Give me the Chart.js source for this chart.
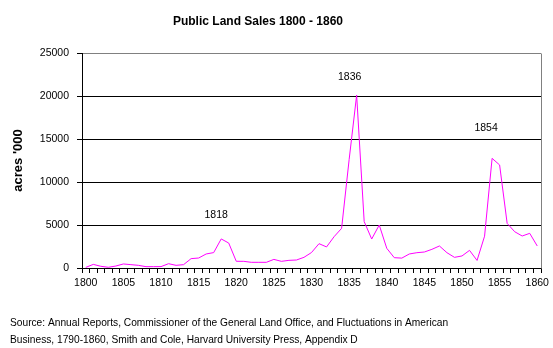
<!DOCTYPE html>
<html><head><meta charset="utf-8">
<script src="https://cdn.jsdelivr.net/npm/chart.js@4/dist/chart.umd.min.js"></script>
<style>html,body{margin:0;padding:0;background:#fff;}canvas{display:block;}</style>
</head><body>
<canvas id="c" width="553" height="348"></canvas>
<script>
const years = ['1800','1801','1802','1803','1804','1805','1806','1807','1808','1809',
  '1810','1811','1812','1813','1814','1815','1816','1817','1818','1819',
  '1820','1821','1822','1823','1824','1825','1826','1827','1828','1829',
  '1830','1831','1832','1833','1834','1835','1836','1837','1838','1839',
  '1840','1841','1842','1843','1844','1845','1846','1847','1848','1849',
  '1850','1851','1852','1853','1854','1855','1856','1857','1858','1859','1860'];
const acres = [70, 420, 200, 80, 230, 470, 390, 310, 155, 155,
  160, 500, 310, 390, 1090, 1160, 1630, 1790, 3380, 2900,
  780, 775, 660, 660, 660, 1000, 775, 890, 930, 1240,
  1800, 2830, 2450, 3640, 4610, 12600, 20100, 5400, 3370, 5000,
  2290, 1200, 1150, 1630, 1780, 1860, 2170, 2560, 1780, 1240,
  1400, 2050, 880, 3700, 12750, 11980, 5190, 4220, 3720, 4030, 2560];
const xTickLabels = ['1800','1805','1810','1815','1820','1825','1830','1835','1840','1845','1850','1855','1860'];
const yTickValues = [0, 5000, 10000, 15000, 20000, 25000];
const annotationYears = ['1818', '1836', '1854'];
const titleText = 'Public Land Sales 1800 - 1860';
const yAxisTitle = "acres '000";
const sourceLines = [
  'Source: Annual Reports, Commissioner of the General Land Office, and Fluctuations in American',
  'Business, 1790-1860, Smith and Cole, Harvard University Press, Appendix D'
];

const FONT = '"Liberation Sans", Arial, sans-serif';
const annotationOffsets = { '1818': [-5, 24], '1836': [-7, 18], '1854': [-6, 30] };

const decorPlugin = {
  id: 'decor',
  beforeDraw(chart) {
    const ctx = chart.ctx;
    ctx.save();
    ctx.fillStyle = '#ffffff';
    ctx.fillRect(0, 0, chart.width, chart.height);
    ctx.restore();
  },
  afterDraw(chart) {
    const ctx = chart.ctx;
    const ca = chart.chartArea;
    const xs = chart.scales.x, ys = chart.scales.y;
    ctx.save();
    ctx.strokeStyle = '#808080';
    ctx.lineWidth = 1;
    ctx.beginPath();
    ctx.moveTo(Math.round(ca.right) + 0.5, Math.round(ca.top) + 0.5);
    ctx.lineTo(Math.round(ca.right) + 0.5, Math.round(ca.bottom) + 0.5);
    ctx.stroke();
    ctx.fillStyle = '#000';
    ctx.font = 'bold 12px ' + FONT;
    ctx.textAlign = 'center';
    ctx.textBaseline = 'middle';
    ctx.fillText(titleText, 258, 22);
    ctx.font = '10.5px ' + FONT;
    annotationYears.forEach(y => {
      const i = years.indexOf(y);
      const off = annotationOffsets[y];
      const px = xs.getPixelForValue(i) + off[0];
      const py = ys.getPixelForValue(acres[i]) - off[1];
      ctx.fillText(y, px, py);
    });
    ctx.textAlign = 'left';
    ctx.font = '10.2px ' + FONT;
    sourceLines.forEach((s, k) => ctx.fillText(s, 10, 323 + k * 17));
    ctx.restore();
  }
};

new Chart(document.getElementById('c'), {
  type: 'line',
  data: {
    labels: years,
    datasets: [{
      data: acres,
      borderColor: '#FF00FF',
      borderWidth: 1,
      pointRadius: 0,
      tension: 0,
      fill: false
    }]
  },
  options: {
    responsive: false,
    animation: false,
    devicePixelRatio: 1,
    layout: { padding: { left: 0, top: 53, right: 9, bottom: 0 } },
    plugins: { legend: { display: false }, tooltip: { enabled: false }, title: { display: false } },
    scales: {
      x: {
        type: 'category',
        offset: true,
        afterFit(s) { s.height = 80; },
        grid: { drawOnChartArea: false, offset: true, tickLength: 5, color: '#000', tickColor: '#000' },
        border: { display: true, color: '#000' },
        ticks: {
          autoSkip: false, maxRotation: 0, minRotation: 0, padding: 4,
          color: '#000', font: { family: FONT, size: 10.5 },
          callback(v, i) { const l = years[i]; return xTickLabels.includes(l) ? l : ''; }
        }
      },
      y: {
        min: 0, max: 25000,
        afterFit(s) { s.width = 82; },
        afterBuildTicks(s) { s.ticks = yTickValues.map(v => ({ value: v })); },
        grid: {
          color: c => (c.tick && c.tick.value === 25000) ? '#808080' : '#000',
          tickColor: '#000', tickLength: 5, drawTicks: true
        },
        border: { display: true, color: '#000' },
        title: { display: true, text: yAxisTitle, color: '#000', font: { family: FONT, size: 13, weight: 'bold' }, padding: { top: 11, bottom: 0 } },
        ticks: { color: '#000', padding: 8, font: { family: FONT, size: 10.5 }, callback: v => String(v) }
      }
    }
  },
  plugins: [decorPlugin]
});
</script>
</body></html>
